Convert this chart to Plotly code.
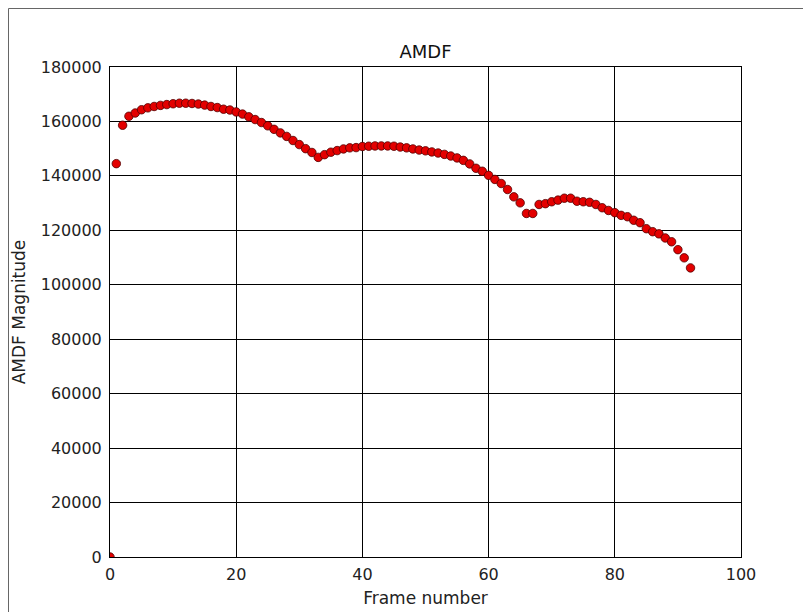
import plotly.graph_objects as go

frames = list(range(0, 93))
amdf = [
    0, 144500, 158600, 161900, 163100, 164300, 165000, 165500, 165900, 166200,
    166500, 166700, 166700, 166600, 166400, 166000, 165500, 165100, 164500, 164200,
    163500, 162700, 161700, 160700, 159600, 158400, 157100, 155800, 154500, 153000,
    151500, 150000, 148600, 146800, 147800, 148700, 149300, 149900, 150300, 150400,
    150800, 150900, 151000, 151000, 151000, 150900, 150600, 150300, 149900, 149500,
    149200, 148800, 148400, 147900, 147300, 146600, 145700, 144400, 142800, 141700,
    140200, 138700, 137200, 135000, 132300, 130100, 126200, 126200, 129500, 129800,
    130500, 131100, 131800, 131800, 130700, 130500, 130300, 129500, 128300, 127300,
    126500, 125500, 125000, 123700, 122800, 120600, 119500, 118700, 117200, 115800,
    112900, 109900, 106200,
]
x_ticks = [0, 20, 40, 60, 80, 100]
y_ticks = list(range(0, 180001, 20000))

font = "DejaVu Sans"
W, H = 803, 604
L, R, T, B = 102, 70, 59, 55
PW, PH = W - L - R, H - T - B

fig = go.Figure()
fig.add_trace(go.Scatter(
    x=frames, y=amdf, mode="markers",
    marker=dict(size=8.5, color="#e30000", line=dict(color="#500000", width=0.8)),
    cliponaxis=True, showlegend=False,
))

axis_common = dict(
    showgrid=True, gridcolor="black", gridwidth=1,
    showline=True, linecolor="black", linewidth=1, mirror="ticks",
    ticks="inside", ticklen=5, tickcolor="black",
    zeroline=False, automargin=False,
    tickfont=dict(family=font, size=16, color="#222"),
)

fig.update_layout(
    width=W, height=H,
    margin=dict(l=L, r=R, t=T, b=B),
    paper_bgcolor="white", plot_bgcolor="white",
    title=dict(text="AMDF", xref="paper", x=0.5, xanchor="center", y=1 - 44 / H, yanchor="middle",
               font=dict(family=font, size=18, color="#111")),
    font=dict(family=font),
    xaxis=dict(range=[0, 100], tickvals=x_ticks, ticktext=[str(v) for v in x_ticks],
               ticklabelstandoff=3,
               title=dict(text="Frame number", font=dict(family=font, size=17, color="#222"), standoff=8),
               **axis_common),
    yaxis=dict(range=[0, 180000], tickvals=y_ticks, ticktext=[str(v) for v in y_ticks],
               ticklabelstandoff=4,
               title=dict(text="AMDF Magnitude", font=dict(family=font, size=17, color="#222"), standoff=10),
               **axis_common),
    shapes=[dict(type="rect", xref="paper", yref="paper",
                 x0=(0.5 - L) / PW, x1=(W + 10 - L) / PW,
                 y0=(PH + T - H - 10) / PH, y1=(PH + T - 0.5) / PH,
                 line=dict(color="#666", width=1), fillcolor="rgba(0,0,0,0)", layer="below")],
)

fig.write_html("out.html")
